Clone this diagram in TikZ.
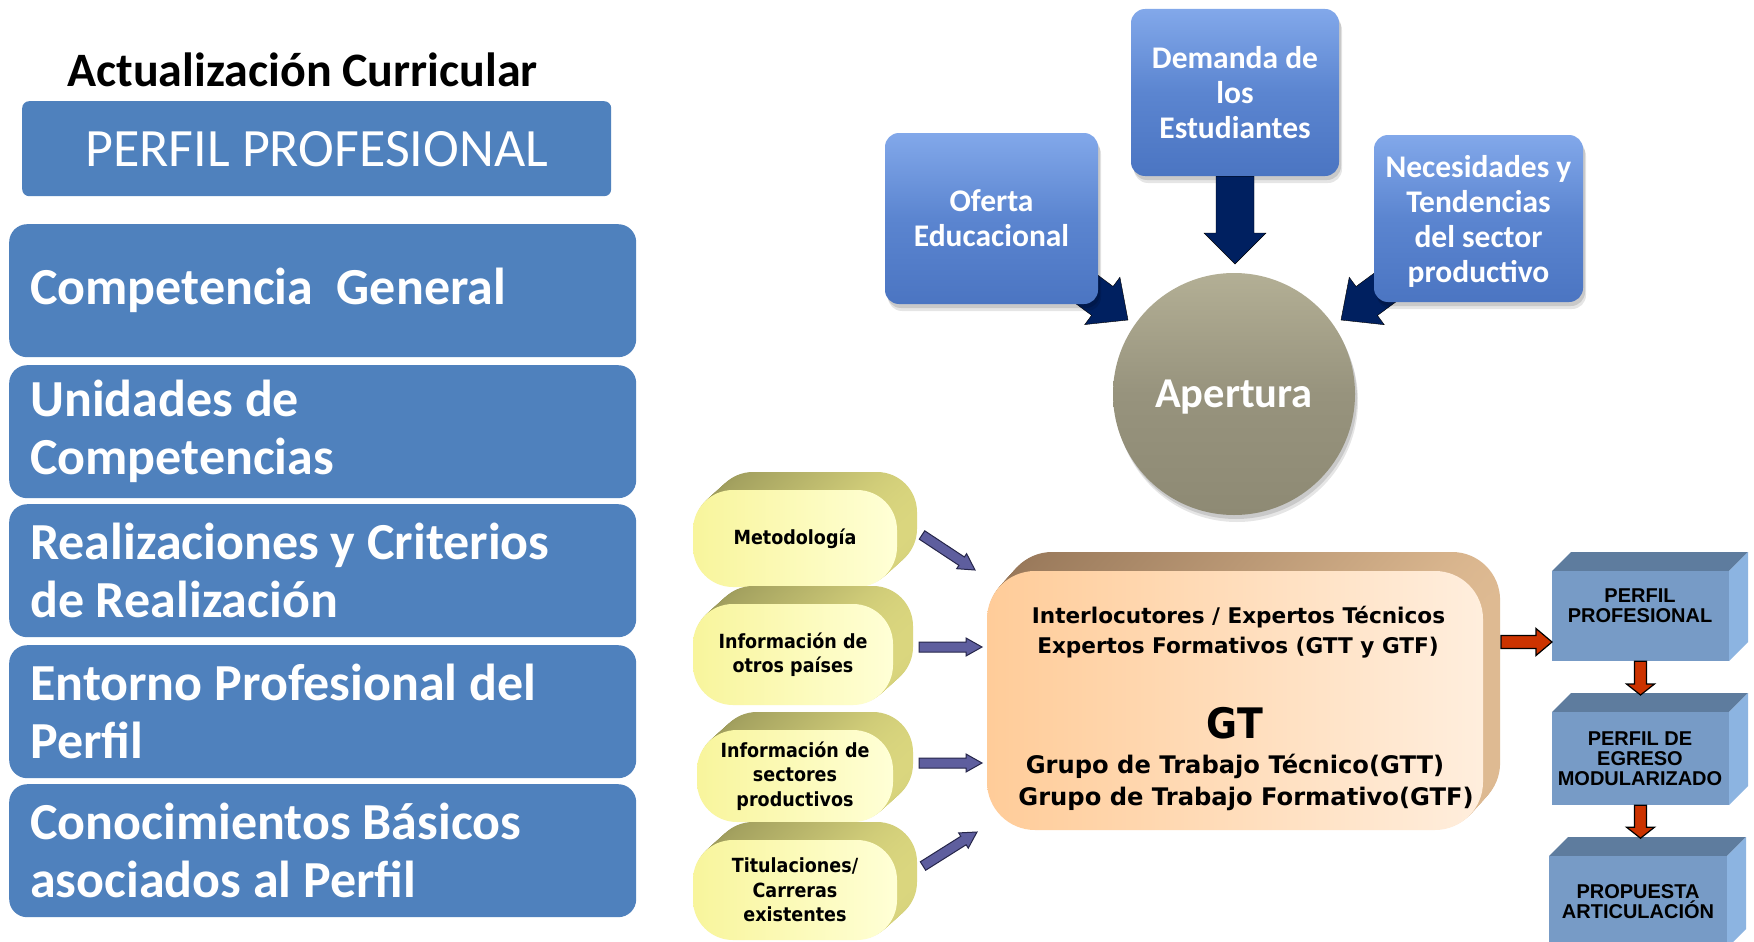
\documentclass[tikz,border=0pt]{standalone}
\usepackage{fontspec}
\setmainfont{Carlito}
\newfontfamily\tah{DejaVu Sans Condensed}
\newfontfamily\dvs{DejaVu Sans}
\newfontfamily\ari{Liberation Sans}
\usetikzlibrary{calc}
\pgfdeclarelayer{bg}
\definecolor{lblue}{HTML}{4F81BD}
\definecolor{navy}{HTML}{002060}
\definecolor{tbtop}{HTML}{82A8EA}
\definecolor{tbmid}{HTML}{5B85D0}
\definecolor{tbbot}{HTML}{4B75C2}
\definecolor{apt}{HTML}{B3AF95}
\definecolor{apm}{HTML}{97937D}
\definecolor{apb}{HTML}{8E8A74}
\definecolor{cylA}{HTML}{9A985A}
\definecolor{cylB}{HTML}{DAD67E}
\definecolor{cylL}{HTML}{F8F59C}
\definecolor{cylR}{HTML}{FFFFD6}
\definecolor{orA}{HTML}{967658}
\definecolor{orB}{HTML}{DEBA92}
\definecolor{orL}{HTML}{FFCC99}
\definecolor{orR}{HTML}{FFEEDD}
\definecolor{vio}{HTML}{5E5E9E}
\definecolor{vioD}{HTML}{26264A}
\definecolor{redA}{HTML}{CC3300}
\definecolor{cubF}{HTML}{779BC6}
\definecolor{cubT}{HTML}{5E7C9E}
\definecolor{cubR}{HTML}{8CB4E1}
\newcommand\fsz[2]{\fontsize{#1}{#2}\selectfont}
\newcommand\tightsp{\spaceskip=11.75pt\relax}
% block arrow: [style]{from}{to}{shaft half width}{head half width}{head length}
\newcommand\barrow[6][]{%
  \pgfmathsetmacro\BAa{veclen(#6,#4)}%
  \pgfmathsetmacro\BAb{atan(#4/#6)}%
  \pgfmathsetmacro\BAc{veclen(#6,#5)}%
  \pgfmathsetmacro\BAd{atan(#5/#6)}%
  \draw[#1] ($(#2)!#4pt!90:(#3)$) -- ($(#3)!\BAa pt!-\BAb:(#2)$) -- ($(#3)!\BAc pt!-\BAd:(#2)$) -- (#3)
     -- ($(#3)!\BAc pt!\BAd:(#2)$) -- ($(#3)!\BAa pt!\BAb:(#2)$) -- ($(#2)!#4pt!-90:(#3)$) -- cycle;}
% cylinder: name, cx, cy, w, h, text
\newcommand\cyl[6]{%
  \foreach \t in {20,19,...,1}{%
    \shade[left color=cylA, right color=cylB, rounded corners=40]
      ({#2-#4/2+\t},{#3-#5/2-0.9*\t}) rectangle ({#2+#4/2+\t},{#3+#5/2-0.9*\t});}
  \node[cylface, minimum width=#4, minimum height=#5] (#1) at (#2,#3) {#6};}
% cuboid: name, x1, y1, x2, y2
\newcommand\cub[5]{%
  \fill[cubT] (#2,#3) -- ++(19,-19) -- ({#4+19},{#3-19}) -- (#4,#3) -- cycle;
  \fill[cubR] (#4,#3) -- ++(19,-19) -- ({#4+19},{#5-19}) -- (#4,#5) -- cycle;
  \node[cubface, minimum width={#4-#2}, minimum height={#5-#3}] (#1) at ({(#2+#4)/2},{(#3+#5)/2}) {};}
\begin{document}
\begin{tikzpicture}[x=1pt,y=-1pt,
  softshadow/.style={
    preaction={fill=black, fill opacity=0.10, transform canvas={shift={(3,7)}}},
    preaction={fill=black, fill opacity=0.12, transform canvas={shift={(2,4)}}}},
  bigbox/.style={fill=lblue, rounded corners=18, minimum width=627, minimum height=133,
    text width=585, inner xsep=21, inner ysep=0, align=left, text=white,
    font=\bfseries\fsz{52}{58}, anchor=north west},
  hdr/.style={fill=lblue, rounded corners=7, minimum width=589, minimum height=95,
    text=white, font=\fsz{54}{60}, anchor=north west, inner sep=0},
  tbox/.style={softshadow, rounded corners=14, top color=tbtop, bottom color=tbbot, middle color=tbmid,
    text=white, font=\bfseries\fsz{31.5}{35}, align=center, inner sep=0},
  apnode/.style={softshadow, circle, minimum size=242, top color=apt, bottom color=apb, middle color=apm,
    text=white, font=\bfseries\fsz{42.5}{48}, inner sep=0, text height=26, text depth=0},
  cylface/.style={rounded corners=40, left color=cylL, right color=cylR, inner sep=0,
    font=\tah\bfseries\fsz{19.5}{24.5}, align=center},
  orface/.style={rounded corners=48, left color=orL, right color=orR, inner sep=0},
  ortxt/.style={anchor=base, inner sep=0, font=\dvs\bfseries\fsz{21.6}{26}},
  orbig/.style={anchor=base, inner sep=0, font=\dvs\bfseries\fsz{24.2}{30}},
  cubface/.style={fill=cubF, inner sep=0},
  cubtxt/.style={anchor=base, inner sep=0, font=\ari\bfseries\fsz{20}{20}},
  varrow/.style={fill=vio, draw=vioD, line width=1},
  rarrow/.style={fill=redA, draw=black, line width=1.2}]
\pgfsetlayers{bg,main}
\useasboundingbox (0,0) rectangle (1754,942);
\begin{pgfonlayer}{bg}
\fill[white] (0,0) rectangle (1754,942);
\end{pgfonlayer}

% ---- left column
\node[anchor=base west, font=\bfseries\fsz{48}{56}, inner sep=0] (title) at (67,87) {Actualización Curricular};
\node[hdr] (pp) at (22,101) {PERFIL PROFESIONAL};
\node[bigbox] (cg) at (9,224) {\tightsp Competencia\ \ General};
\node[bigbox] (uc) at (9,365) {\tightsp Unidades de\\Competencias};
\node[bigbox] (rc) at (9,504) {\tightsp Realizaciones y Criterios\\de Realización};
\node[bigbox] (ep) at (9,645) {\tightsp Entorno Profesional del\\Perfil};
\node[bigbox] (cb) at (9,784) {\tightsp Conocimientos Básicos\\asociados al Perfil};

% ---- top right
\node[tbox, minimum width=208, minimum height=167] (dem) at (1235,92.5) {Demanda de\\los\\Estudiantes};
\node[tbox, minimum width=213, minimum height=171] (ofe) at (991.5,218.5) {Oferta\\Educacional};
\node[tbox, minimum width=209, minimum height=167] (nec) at (1478.5,218.5) {\rule{0pt}{28pt}Necesidades y\\Tendencias\\del sector\\productivo};
\node[apnode] (ap) at (1234,394) {Apertura};
\coordinate (lt) at (1128,320);
\coordinate (rt) at (1341,320);
\coordinate (dt) at (1235,264);
\begin{pgfonlayer}{bg}
\barrow[fill=navy]{ofe.center}{lt}{18}{29.5}{32}
\barrow[fill=navy]{nec.center}{rt}{18}{29.5}{32}
\end{pgfonlayer}
\barrow[fill=navy]{dem.south}{dt}{19}{31}{31}

% ---- cylinders
\cyl{met}{795}{538.5}{204}{97}{Metodología}
\cyl{otr}{793}{654.5}{200}{101}{Información de\\otros países}
\cyl{sec}{795}{776}{196}{92}{Información de\\sectores\\productivos}
\cyl{tit}{795}{890}{204}{100}{Titulaciones/\\Carreras\\existentes}

% ---- orange box
\foreach \t in {19,18,...,1}{%
  \shade[left color=orA, right color=orB, rounded corners=48]
    ({987+0.9*\t},{571-\t}) rectangle ({1483+0.9*\t},{830-\t});}
\node[orface, minimum width=496, minimum height=259] (gt) at (1235,700.5) {};
\node[ortxt] (gt1) at (1238.5,623) {Interlocutores / Expertos Técnicos};
\node[ortxt] (gt2) at (1238,653) {Expertos Formativos (GTT y GTF)};
\node[anchor=base, inner sep=0, font=\tah\bfseries\fsz{42}{48}] (gt3) at (1235,738) {GT};
\node[orbig] (gt4) at (1235,773) {Grupo de Trabajo Técnico(GTT)};
\node[orbig] (gt5) at (1246,805) {Grupo de Trabajo Formativo(GTF)};

% ---- violet arrows
\coordinate (v1a) at (922,535); \coordinate (v1b) at (975,570);
\coordinate (v2a) at (919,647); \coordinate (v2b) at (982,647);
\coordinate (v3a) at (919,763); \coordinate (v3b) at (982,763);
\coordinate (v4a) at (923,866); \coordinate (v4b) at (977,832);
\barrow[varrow]{v1a}{v1b}{5}{9}{16}
\barrow[varrow]{v2a}{v2b}{5}{9}{16}
\barrow[varrow]{v3a}{v3b}{5}{9}{16}
\barrow[varrow]{v4a}{v4b}{5}{9}{16}

% ---- cuboids
\cub{c1}{1552}{571}{1729}{661}
\cub{c2}{1552}{712}{1729}{805}
\cub{c3}{1549}{856}{1727}{948}
\node[cubtxt] (c1a) at (1640,602) {PERFIL};
\node[cubtxt] (c1b) at (1640,622) {PROFESIONAL};
\node[cubtxt] (c2a) at (1640,745) {PERFIL DE};
\node[cubtxt] (c2b) at (1640,765) {EGRESO};
\node[cubtxt] (c2c) at (1640,785) {MODULARIZADO};
\node[cubtxt] (c3a) at (1638,898) {PROPUESTA};
\node[cubtxt] (c3b) at (1638,918) {ARTICULACIÓN};

% ---- red arrows
\coordinate (r1a) at (1501,642); \coordinate (r1b) at (1552,642);
\coordinate (r2b) at (1640.5,695);
\coordinate (r3b) at ($(c2.south)+(0,33)$);
\barrow[rarrow]{r1a}{r1b}{6.5}{13.5}{16}
\barrow[rarrow]{c1.south}{r2b}{6}{14}{11}
\barrow[rarrow]{c2.south}{r3b}{6}{14}{11}
\end{tikzpicture}
\end{document}
